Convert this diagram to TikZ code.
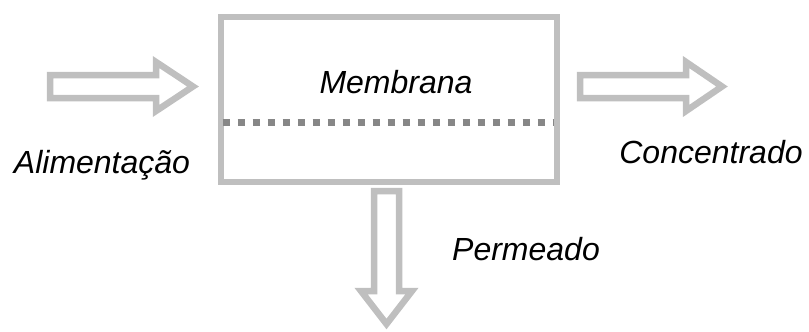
\documentclass[tikz,border=0pt]{standalone}
\usepackage{fontspec}
\setmainfont{Liberation Sans}
\begin{document}
\begin{tikzpicture}[x=1pt,y=-1pt,
  outline/.style={draw=black!25, line width=6.5pt, line join=miter},
  memline/.style={draw=black!47, line width=6.5pt, dash pattern=on 7pt off 8pt},
  lbl/.style={font=\fontsize{32}{38}\selectfont\itshape, text=black, inner sep=0pt, anchor=base}]
\useasboundingbox (0,0) rectangle (809,332);
% membrane module
\node[outline, minimum width=336pt, minimum height=165pt, inner sep=0pt] (box) at (389,99.5) {};
\coordinate (ml) at (222.5,122.5);
\coordinate (mr) at (554,122.5);
\draw[memline] (ml) -- (mr);
% feed arrow
\draw[outline] (50,75) -- (156,75) -- (156,62) -- (193,86.5) -- (156,111) -- (156,98) -- (50,98) -- cycle;
% concentrate arrow
\draw[outline] (580,75) -- (686,75) -- (686,62) -- (722,86.5) -- (686,111) -- (686,98) -- (580,98) -- cycle;
% permeate arrow
\draw[outline] (374,191) -- (399,191) -- (399,291) -- (412,291) -- (386.5,324) -- (361,291) -- (374,291) -- cycle;
% labels
\node[lbl] (tm) at (396,93) {Membrana};
\node[lbl] (ta) at (102,173) {Alimentação};
\node[lbl] (tc) at (711,163) {Concentrado};
\node[lbl] (tp) at (526,260) {Permeado};
\end{tikzpicture}
\end{document}
